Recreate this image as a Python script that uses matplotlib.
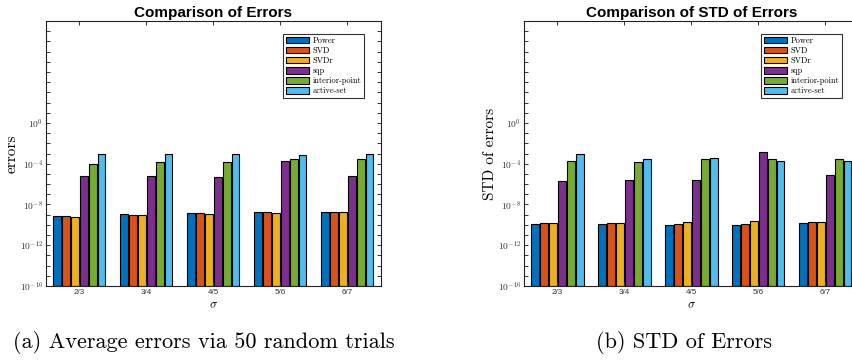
import matplotlib
matplotlib.use("Agg")
import matplotlib.pyplot as plt
import numpy as np
from matplotlib.ticker import FixedLocator, FuncFormatter, NullFormatter

plt.rcParams['mathtext.fontset'] = 'cm'

# categories and methods
sigmas = ['2/3', '3/4', '4/5', '5/6', '6/7']
methods = ['Power', 'SVD', 'SVDr', 'sqp', 'interior-point', 'active-set']
colors = ['#0072BD', '#D95319', '#EDB120', '#7E2F8E', '#77AC30', '#4DBEEE']

# log10 of average errors, one list per method
avg_power = [-9.09, -8.96, -8.83, -8.73, -8.70]
avg_svd = [-9.15, -8.99, -8.83, -8.76, -8.70]
avg_svdr = [-9.22, -9.02, -8.89, -8.79, -8.73]
avg_sqp = [-5.21, -5.24, -5.28, -3.75, -5.21]
avg_ip = [-4.07, -3.88, -3.81, -3.55, -3.55]
avg_as = [-3.03, -3.06, -3.06, -3.13, -3.09]

# log10 of STD of errors
std_power = [-9.90, -9.93, -9.97, -9.97, -9.84]
std_svd = [-9.80, -9.84, -9.90, -9.87, -9.77]
std_svdr = [-9.80, -9.84, -9.71, -9.67, -9.71]
std_sqp = [-5.73, -5.57, -5.60, -2.90, -5.11]
std_ip = [-3.75, -3.84, -3.58, -3.55, -3.55]
std_as = [-3.06, -3.55, -3.42, -3.75, -3.71]

avg_series = [avg_power, avg_svd, avg_svdr, avg_sqp, avg_ip, avg_as]
std_series = [std_power, std_svd, std_svdr, std_sqp, std_ip, std_as]

SANS = 'Liberation Sans'
SERIF = 'cmr10'


def draw_panel(ax, series, title, ylabel):
    x = np.arange(1, len(sigmas) + 1)
    pitch = 0.8 / len(methods)
    for i, (vals, name) in enumerate(zip(series, methods)):
        heights = 10.0 ** np.array(vals)
        ax.bar(x + (i - 2.5) * pitch, heights, width=0.11, bottom=1e-16,
               color=colors[i], edgecolor='black', linewidth=0.8, label=name)
    ax.set_yscale('log')
    ax.set_ylim(1e-16, 1e10)
    ax.set_xlim(0.5, 5.5)
    ax.set_xticks(x)
    ax.set_xticklabels(sigmas, fontsize=5.8, family=SANS, color='#333333')

    ax.yaxis.set_major_locator(FixedLocator([1e-16, 1e-12, 1e-8, 1e-4, 1e0]))
    ax.yaxis.set_major_formatter(FuncFormatter(
        lambda v, p: r'$\mathsf{10^{%d}}$' % int(round(np.log10(v)))))
    ax.yaxis.set_minor_locator(FixedLocator([10.0 ** k for k in range(-16, 11)]))
    ax.yaxis.set_minor_formatter(NullFormatter())
    ax.tick_params(axis='both', which='both', direction='in', top=True, right=True,
                   length=3, width=0.7, colors='#333333', pad=2)
    ax.tick_params(axis='y', which='major', labelsize=6.8)
    for s in ax.spines.values():
        s.set_linewidth(0.8)
        s.set_color('#222222')

    ax.set_title(title, fontsize=11, fontweight='bold', family=SANS, pad=3)
    ax.set_ylabel(ylabel, fontsize=11, family=SERIF, labelpad=1)
    ax.set_xlabel(r'$\sigma$', fontsize=9, labelpad=2)

    leg = ax.legend(loc='upper right', bbox_to_anchor=(0.949, 0.951),
                    prop={'family': SERIF, 'size': 6}, fancybox=False,
                    frameon=True, handlelength=2.8, handleheight=0.85,
                    labelspacing=0.2, handletextpad=0.4, borderpad=0.3,
                    borderaxespad=0.0)
    leg.get_frame().set_edgecolor('black')
    leg.get_frame().set_linewidth(0.8)


fig = plt.figure(figsize=(8.53, 3.6), dpi=100)
ax1 = fig.add_axes([0.0539, 0.2056, 0.3927, 0.736])
ax2 = fig.add_axes([0.6143, 0.2056, 0.3927, 0.736])

draw_panel(ax1, avg_series, 'Comparison of Errors', 'errors')
draw_panel(ax2, std_series, 'Comparison of STD of Errors', 'STD of errors')

fig.text(0.0152, 0.048, '(a) Average errors via 50 random trials',
         family=SERIF, fontsize=16, ha='left', va='center')
fig.text(0.802, 0.048, '(b) STD of Errors',
         family=SERIF, fontsize=16, ha='center', va='center')

fig.savefig('out.png', dpi=100)
